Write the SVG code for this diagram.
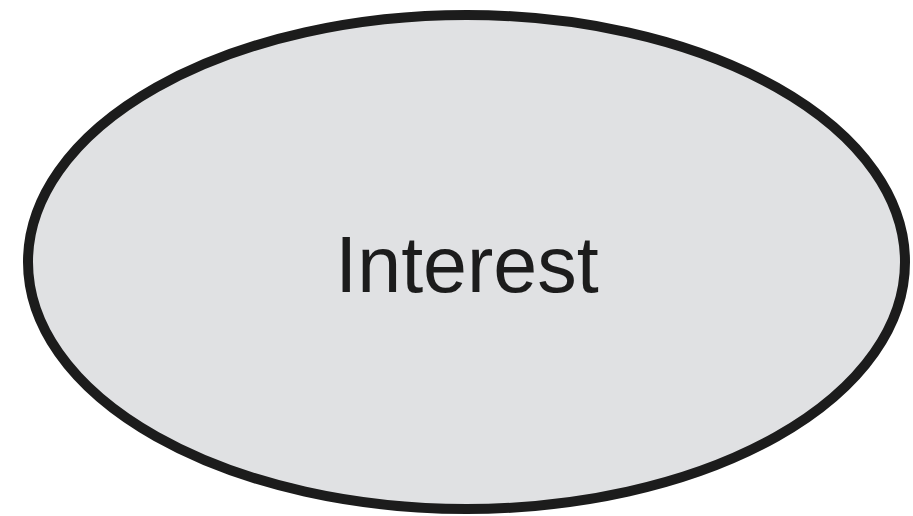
<svg xmlns="http://www.w3.org/2000/svg" width="913" height="516" viewBox="0 0 913 516">
<style>
.node{fill:#e0e1e3;stroke:#1c1c1c;stroke-width:10}
.label{font-family:"Liberation Sans",Arial,sans-serif;font-size:79px;fill:#1c1c1c;text-anchor:middle}
</style>
<rect width="913" height="516" fill="#ffffff"/>
<g id="interest">
<ellipse class="node" cx="466.5" cy="262" rx="438.5" ry="247"/>
<text class="label" x="467" y="292">Interest</text>
</g>
<g id="connectors"></g>
</svg>
